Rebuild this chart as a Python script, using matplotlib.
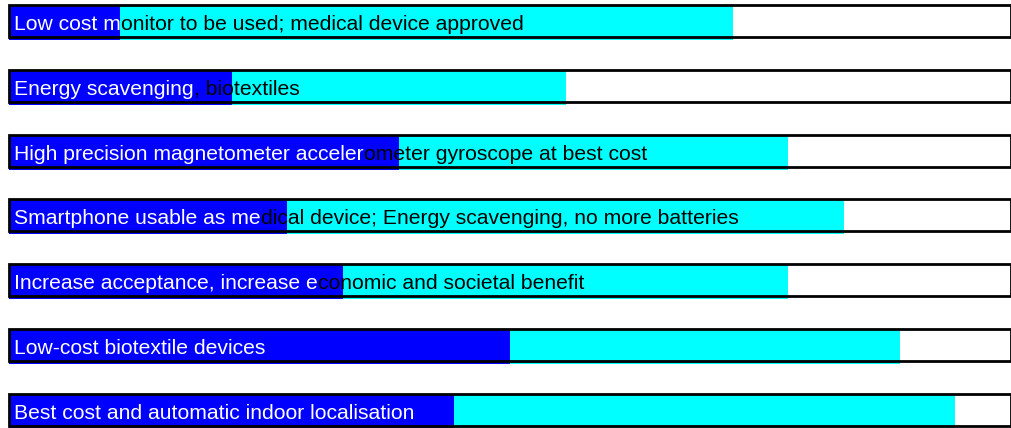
import matplotlib.pyplot as plt
from matplotlib.patches import Rectangle

plt.rcParams['font.family'] = ['Liberation Sans', 'DejaVu Sans']

# --- data (timeline units, axis runs 0..18) ---
labels = [
    "Low cost monitor to be used; medical device approved",
    "Energy scavenging, biotextiles",
    "High precision magnetometer accelerometer gyroscope at best cost",
    "Smartphone usable as medical device; Energy scavenging, no more batteries",
    "Increase acceptance, increase economic and societal benefit",
    "Low-cost biotextile devices",
    "Best cost and automatic indoor localisation",
]
start = [2, 4, 7, 5, 6, 9, 8]        # end of the blue part
finish = [13, 10, 14, 15, 14, 16, 17]  # end of the cyan part
n_white = [10, 17, 35, 23, 31, 27, 43]  # characters drawn in white
x_max = 18

BLUE = "#0000ff"
CYAN = "#00ffff"

W, H = 1012, 428
fig = plt.figure(figsize=(W / 100, H / 100), dpi=100)
ax = fig.add_axes([9 / W, 0, 1002 / W, 1])
ax.set_xlim(0, x_max)
ax.set_ylim(H, 0)  # y in pixels, top down
ax.axis("off")

pitch = 64.8
box_h = 32
for i, lab in enumerate(labels):
    top = 5 + pitch * i
    # white background of the track
    ax.add_patch(Rectangle((0, top), x_max, box_h, facecolor="white",
                           edgecolor="none", zorder=1))
    # filled parts, slightly taller than the frame
    ax.barh(top + 0.5, start[i], height=box_h + 2.5, align="edge",
            color=BLUE, zorder=2)
    ax.barh(top + 0.5, finish[i] - start[i], left=start[i],
            height=box_h + 2.5, align="edge", color=CYAN, zorder=2)
    # frame on top
    ax.add_patch(Rectangle((0, top), x_max, box_h, facecolor="none",
                           edgecolor="black", lw=2.0, zorder=3,
                           clip_on=False))

    head, tail = lab[:n_white[i]], lab[n_white[i]:]
    t1 = ax.annotate(head, xy=(0, top + 25), xytext=(5, 0),
                     textcoords="offset pixels", color="white",
                     fontsize=15.2, va="baseline", ha="left", zorder=4)
    if tail:
        ax.annotate(tail, xy=(1, 0), xycoords=t1, va="bottom", ha="left",
                    color="black", fontsize=15.2, zorder=4)

fig.savefig("out.png", dpi=100)
